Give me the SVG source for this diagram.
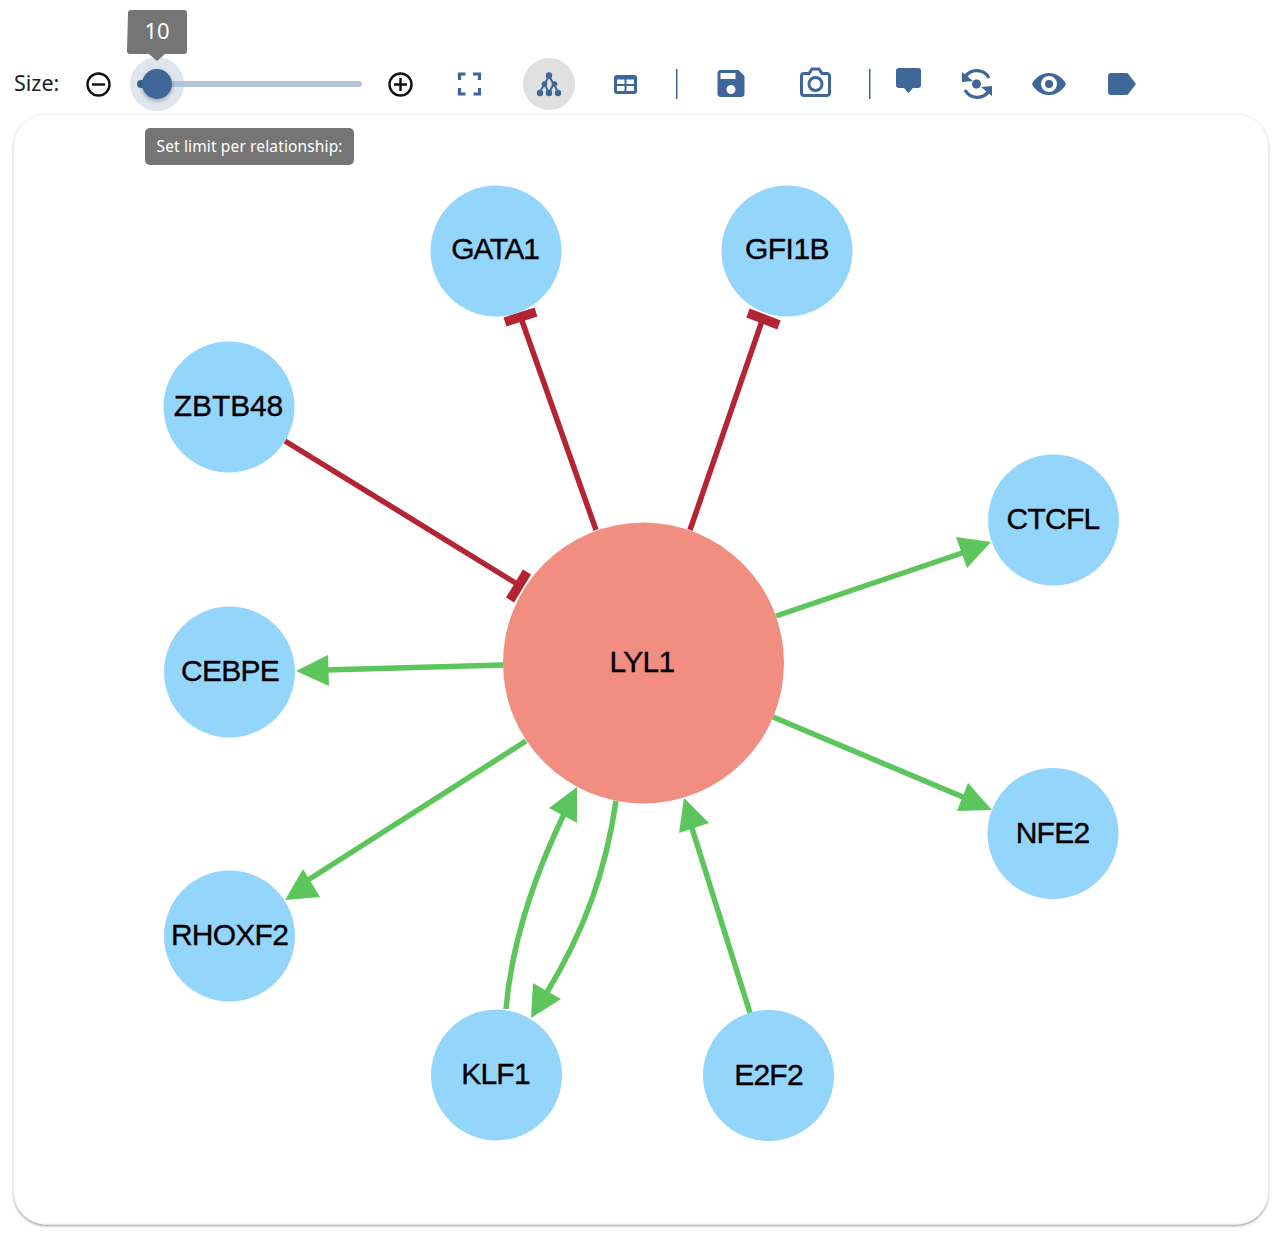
<svg xmlns="http://www.w3.org/2000/svg" width="1278" height="1234" viewBox="0 0 1278 1234">
<defs>
<style>
.ui{font-family:"Noto Sans","Open Sans",sans-serif}
.nl{font-family:"Liberation Sans",Arial,sans-serif;font-size:30px;text-anchor:middle;fill:#000;stroke:#000;stroke-width:.35px;letter-spacing:-.75px}
.tf{fill:#94d5fc}
.ic{fill:#3f6698}
.ol{fill:none;stroke:#111;stroke-width:2.4}
.g{fill:none;stroke:#5cc65c;stroke-width:5.500}
.gh{fill:#5cc65c}
.r{fill:none;stroke:#b42534;stroke-width:5.500}
.rb{fill:none;stroke:#b42534;stroke-width:9.500}
</style>
<filter id="cs" x="-5%" y="-5%" width="110%" height="110%"><feDropShadow dx="0" dy="1.5" stdDeviation="1.2" flood-color="#000" flood-opacity=".4"/></filter>
<filter id="ts" x="-30%" y="-30%" width="160%" height="170%"><feDropShadow dx="0" dy="2" stdDeviation="2" flood-color="#000" flood-opacity=".3"/></filter>
</defs>
<rect width="1278" height="1234" fill="#fff"/>
<rect id="card" x="14" y="114" width="1254" height="1110" rx="32" fill="#fff" stroke="#f4f4f4" stroke-width="1" filter="url(#cs)"/>
<g id="toolbar">
<text class="ui" x="14" y="91" font-size="21.500" fill="#222">Size:</text>
<circle class="ol" cx="98.500" cy="84.500" r="11"/><path d="M92 84.500h13" class="ol"/>
<circle cx="157" cy="84" r="27" fill="#3f6698" opacity=".16"/>
<rect x="137" y="81" width="225" height="6" rx="3" fill="#b3c3da"/>
<circle cx="141" cy="84" r="4" fill="#3f6698"/>
<circle cx="157" cy="84" r="15" fill="#3f6698" filter="url(#ts)"/>
<path d="M128 13a3 3 0 0 1 3-3h53a3 3 0 0 1 3 3v38a3 3 0 0 1-3 3h-19l-8 7-8-7h-19a3 3 0 0 1-3-3z" fill="#757575"/>
<text class="ui" x="157" y="39" font-size="22" fill="#fff" text-anchor="middle">10</text>
<circle class="ol" cx="400.500" cy="84.500" r="11"/><path d="M394 84.500h13M400.500 78v13" class="ol"/>
<path d="M459.500 80v-6h6M473 74h6.500v6M479.500 88v6h-6M465.500 94h-6v-6" fill="none" stroke="#3f6698" stroke-width="3.200"/>
<circle cx="549" cy="84" r="26" fill="#e0e0e0"/>
<path d="M549 76L541 90M549 76L557 90M544.500 84L549 93M553.500 84L549 93" fill="none" stroke="#3f6698" stroke-width="2"/>
<g class="ic"><circle cx="549" cy="75.500" r="3.200"/><circle cx="544.500" cy="84" r="2.800"/><circle cx="554.500" cy="84" r="2.800"/><circle cx="540" cy="93" r="3.200"/><circle cx="549" cy="93" r="3.200"/><circle cx="558" cy="93" r="3.200"/></g>
<path class="ic" fill-rule="evenodd" d="M617 75h17a3 3 0 0 1 3 3v13a3 3 0 0 1-3 3h-17a3 3 0 0 1-3-3V78a3 3 0 0 1 3-3zM617 79.500v4.500h7.500v-4.500zM626.500 79.500v4.500h7.500v-4.500zM617 86v5h7.500v-5zM626.500 86v5h7.500v-5z"/>
<rect x="676" y="69" width="1.500" height="30" fill="#3f6698"/>
<path class="ic" transform="translate(713 65.500) scale(1.500)" d="M17 3H5c-1.110 0-2 .9-2 2v14c0 1.100.89 2 2 2h14c1.100 0 2-.9 2-2V7l-4-4zm-5 16c-1.660 0-3-1.340-3-3s1.340-3 3-3 3 1.340 3 3-1.340 3-3 3zm3-10H5V5h10v4z"/>
<path d="M804 73.500h5l3-4.500h7l3 4.500h5a2.500 2.500 0 0 1 2.500 2.500v17a2.500 2.500 0 0 1-2.500 2.500h-23a2.500 2.500 0 0 1-2.500-2.500V76a2.500 2.500 0 0 1 2.500-2.500z" fill="none" stroke="#3f6698" stroke-width="3"/>
<circle cx="815.500" cy="84" r="6.500" fill="none" stroke="#3f6698" stroke-width="3"/>
<rect x="869" y="69" width="1.500" height="30" fill="#3f6698"/>
<path class="ic" d="M899 68h19a3 3 0 0 1 3 3v14a3 3 0 0 1-3 3h-5l-4.500 5-4.500-5h-5a3 3 0 0 1-3-3V71a3 3 0 0 1 3-3z"/>
<g fill="none" stroke="#3f6698" stroke-width="3.200"><path d="M965 77a14 14 0 0 1 24 1"/><path d="M989 91a14 14 0 0 1-24-1"/></g>
<path class="ic" d="M962 72l0 10 11-1zM992 96l0-10-11 1z"/><circle class="ic" cx="976.500" cy="84" r="4.500"/>
<path class="ic" fill-rule="evenodd" d="M1049 73c8 0 14 5 17 11-3 6-9 11-17 11s-14-5-17-11c3-6 9-11 17-11zM1049 76a8 8 0 1 0 0 16 8 8 0 0 0 0-16zM1049 80a4 4 0 1 1 0 8 4 4 0 0 1 0-8z"/>
<path class="ic" d="M1111 73h15a3 3 0 0 1 2.500 1.300l7.500 9.700-7.500 9.700a3 3 0 0 1-2.500 1.300h-15a3 3 0 0 1-3-3V76a3 3 0 0 1 3-3z"/>
</g>
<g id="connectors">
<path class="r" d="M596 530L521 318"/><path class="rb" d="M505 322L536 312"/>
<path class="r" d="M690 530L763 318"/><path class="rb" d="M748 313L779 325"/>
<path class="r" d="M285 441L522 587"/><path class="rb" d="M527 572L510 600"/>
<path class="g" d="M776 616L965 552"/><polygon class="gh" points="991,542 956,537 967,568"/>
<path class="g" d="M503 665L325 670"/><polygon class="gh" points="296,671 328,655 329,686"/>
<path class="g" d="M773 717L970 800"/><polygon class="gh" points="992,810 968,783 957,811"/>
<path class="g" d="M526 741L308 880"/><polygon class="gh" points="285,900 303,869 320,897"/>
<path class="g" d="M506 1009C511 950 530 885 564 814"/><polygon class="gh" points="577,787 549,808 577,823"/>
<path class="g" d="M616 801C606 870 585 930 546 994"/><polygon class="gh" points="531,1018 533,983 561,999"/>
<path class="g" d="M750 1013L691 825"/><polygon class="gh" points="684,798 679,833 709,823"/>
</g>
<g id="n-lyl1"><circle cx="643.500" cy="663" r="140.500" fill="#f18e81"/><text class="nl" x="642" y="672">LYL1</text></g>
<g id="n-gata1"><circle class="tf" cx="496" cy="251" r="65.500"/><text class="nl" x="495" y="259" style="letter-spacing:-1.300px">GATA1</text></g>
<g id="n-gfi1b"><circle class="tf" cx="787" cy="251" r="65.500"/><text class="nl" x="787" y="259" style="letter-spacing:-.5px">GFI1B</text></g>
<g id="n-zbtb48"><circle class="tf" cx="229" cy="407" r="65.500"/><text class="nl" x="228.500" y="416" style="letter-spacing:-.1px">ZBTB48</text></g>
<g id="n-ctcfl"><circle class="tf" cx="1053.500" cy="520" r="65.500"/><text class="nl" x="1053" y="529">CTCFL</text></g>
<g id="n-cebpe"><circle class="tf" cx="229.500" cy="672" r="65.500"/><text class="nl" x="230" y="680.500">CEBPE</text></g>
<g id="n-nfe2"><circle class="tf" cx="1053" cy="833.500" r="65.500"/><text class="nl" x="1052.500" y="842.500">NFE2</text></g>
<g id="n-rhoxf2"><circle class="tf" cx="229.500" cy="936" r="65.500"/><text class="nl" x="229.500" y="945">RHOXF2</text></g>
<g id="n-klf1"><circle class="tf" cx="496.500" cy="1075" r="65.500"/><text class="nl" x="495.500" y="1084">KLF1</text></g>
<g id="n-e2f2"><circle class="tf" cx="768.500" cy="1075.500" r="65.500"/><text class="nl" x="768.500" y="1085">E2F2</text></g>
<g id="tip"><rect x="145" y="128" width="209" height="37" rx="5" fill="#757575"/><text class="ui" x="249.500" y="152" font-size="15.500" fill="#fff" text-anchor="middle" textLength="186" lengthAdjust="spacing">Set limit per relationship:</text></g>
</svg>
